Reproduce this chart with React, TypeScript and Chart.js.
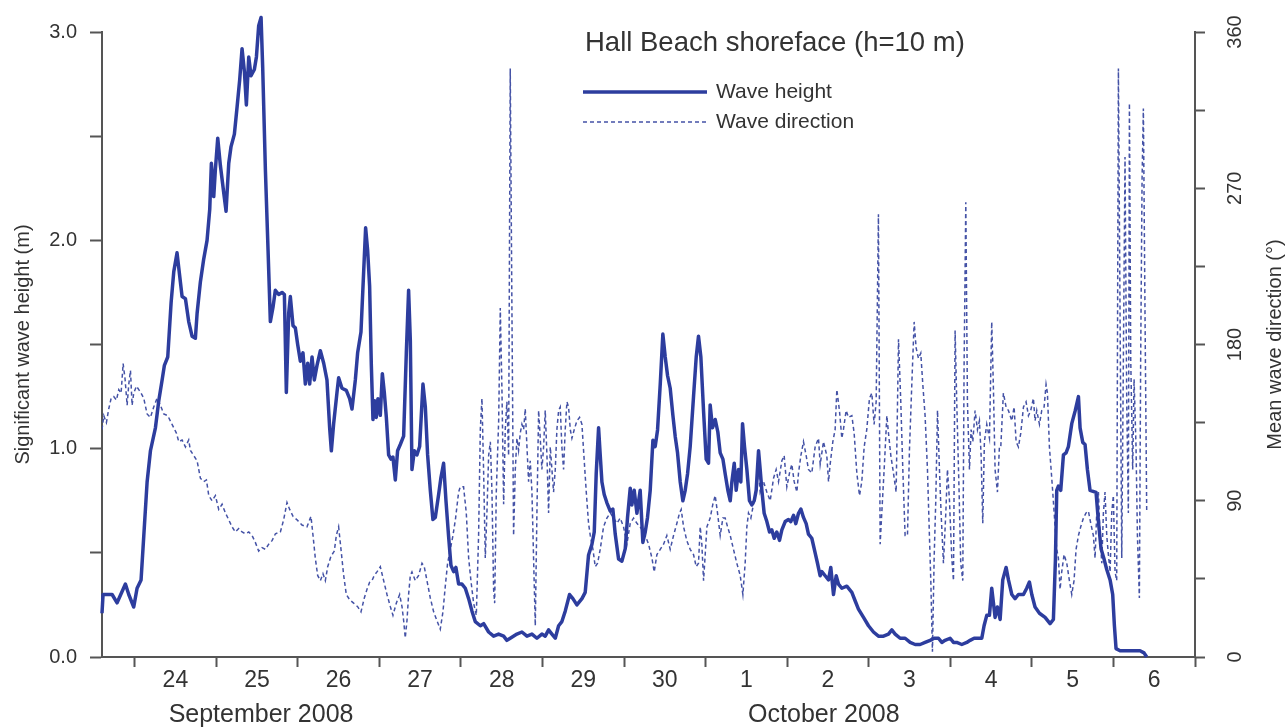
import React, { useEffect, useRef } from 'react';
import { Chart, registerables } from 'chart.js';

Chart.register(...registerables);

// ---- Data (x = days since 23 Sep 2008 00:00) ----
const heightDays = [
  0.6, 0.613, 0.724, 0.785, 0.887, 0.928, 0.989, 1.03, 1.079, 1.112,
  1.153, 1.194, 1.255, 1.296, 1.337, 1.365, 1.406, 1.447, 1.48, 1.52,
  1.561, 1.582, 1.623, 1.663, 1.704, 1.745, 1.766, 1.806, 1.847, 1.888,
  1.921, 1.941, 1.97, 1.99, 2.019, 2.051, 2.092, 2.121, 2.154, 2.182,
  2.223, 2.256, 2.288, 2.317, 2.346, 2.37, 2.399, 2.427, 2.468, 2.493,
  2.521, 2.55, 2.57, 2.603, 2.636, 2.664, 2.697,
  2.725, 2.766, 2.807, 2.836, 2.86, 2.889, 2.909, 2.942, 2.97, 2.999,
  3.032, 3.064, 3.093, 3.122, 3.146, 3.175, 3.203, 3.236, 3.277, 3.318,
  3.358, 3.391, 3.412, 3.44, 3.481, 3.501, 3.542, 3.595, 3.636, 3.665,
  3.706, 3.734, 3.775, 3.8, 3.832, 3.857, 3.881, 3.902, 3.922, 3.943,
  3.963, 3.983, 4.012, 4.037, 4.061, 4.086, 4.114, 4.143, 4.167, 4.196,
  4.224, 4.257, 4.298, 4.331, 4.359, 4.38, 4.4, 4.429, 4.461, 4.494,
  4.535, 4.564, 4.592, 4.625, 4.657, 4.686, 4.727, 4.755, 4.788, 4.817,
  4.849, 4.878, 4.911, 4.939, 4.972,
  5.013, 5.054, 5.095, 5.136, 5.176, 5.238, 5.279, 5.34, 5.401, 5.462,
  5.524, 5.564, 5.605, 5.687, 5.748, 5.81, 5.871, 5.932, 5.993, 6.034,
  6.075, 6.116, 6.157, 6.198, 6.238, 6.279, 6.332, 6.373, 6.422, 6.484,
  6.524, 6.565, 6.606, 6.635, 6.659, 6.688, 6.708, 6.729, 6.757, 6.79,
  6.831, 6.863, 6.892, 6.933, 6.974, 7.015, 7.043, 7.076, 7.096, 7.125,
  7.158, 7.198,
  7.231, 7.26, 7.288, 7.321, 7.354, 7.382, 7.411, 7.444, 7.476, 7.505,
  7.534, 7.566, 7.599, 7.627, 7.656, 7.689, 7.721, 7.75, 7.779, 7.811,
  7.852, 7.885, 7.913, 7.942, 7.975, 8.007, 8.036, 8.056, 8.085, 8.118,
  8.15, 8.179, 8.212, 8.24, 8.273, 8.302, 8.322, 8.351, 8.375, 8.404,
  8.432, 8.453, 8.477, 8.506, 8.538, 8.567, 8.596, 8.62, 8.649, 8.669,
  8.69, 8.718, 8.751, 8.784, 8.812, 8.841, 8.873, 8.906, 8.935, 8.976,
  9.016, 9.045, 9.078, 9.106, 9.139, 9.168, 9.2, 9.233, 9.261, 9.302,
  9.343, 9.372, 9.404,
  9.425, 9.466, 9.507, 9.535, 9.568, 9.601, 9.629, 9.67, 9.731, 9.793,
  9.833, 9.874, 9.936, 9.997, 10.058, 10.119, 10.181, 10.242, 10.283, 10.324,
  10.385, 10.446, 10.508, 10.569, 10.63, 10.691, 10.753, 10.802, 10.855, 10.896,
  10.936, 10.998, 11.039, 11.079, 11.141, 11.202, 11.243, 11.292, 11.345, 11.386,
  11.414, 11.447, 11.48, 11.508, 11.529, 11.549, 11.578, 11.611,
  11.643, 11.684, 11.713, 11.754, 11.794, 11.835, 11.897, 11.937, 11.97, 11.999,
  12.039, 12.093, 12.162, 12.223, 12.264, 12.289, 12.305, 12.325, 12.354, 12.387,
  12.419, 12.448, 12.489, 12.53, 12.571, 12.591, 12.624, 12.652, 12.681, 12.713,
  12.787, 12.816, 12.848, 12.885, 12.918, 12.959, 12.991, 13.012, 13.032, 13.081,
  13.204, 13.326, 13.375, 13.408,
];

const heightValues = [
  0.21, 0.3, 0.3, 0.26, 0.35, 0.3, 0.24, 0.33, 0.37, 0.58,
  0.84, 0.99, 1.1, 1.23, 1.33, 1.4, 1.44, 1.7, 1.85, 1.94,
  1.8, 1.73, 1.72, 1.61, 1.54, 1.53, 1.65, 1.8, 1.91, 2.0,
  2.15, 2.37, 2.21, 2.34, 2.49, 2.36, 2.23, 2.14, 2.37, 2.45,
  2.51, 2.64, 2.77, 2.92, 2.81, 2.65, 2.88, 2.79, 2.82, 2.88,
  3.03, 3.07, 2.83, 2.34, 1.95, 1.61, 1.68,
  1.76, 1.74, 1.75, 1.74, 1.27, 1.65, 1.73, 1.59, 1.58, 1.5,
  1.42, 1.46, 1.31, 1.41, 1.31, 1.44, 1.33, 1.4, 1.47, 1.41,
  1.33, 1.1, 0.99, 1.12, 1.27, 1.34, 1.29, 1.28, 1.24, 1.19,
  1.33, 1.46, 1.56, 1.78, 2.06, 1.95, 1.78, 1.4, 1.14, 1.23,
  1.15, 1.24, 1.16, 1.36, 1.27, 1.15, 0.97, 0.95, 0.96, 0.85,
  0.99, 1.02, 1.06, 1.46, 1.76, 1.52, 0.9, 0.99, 0.97, 1.01,
  1.31, 1.2, 0.97, 0.8, 0.66, 0.67, 0.78, 0.86, 0.93, 0.75,
  0.58, 0.44, 0.41, 0.43, 0.35,
  0.35, 0.33, 0.28, 0.22, 0.17, 0.15, 0.16, 0.12, 0.1, 0.11,
  0.1, 0.08, 0.09, 0.11, 0.12, 0.1, 0.11, 0.09, 0.11, 0.1,
  0.13, 0.11, 0.09, 0.15, 0.17, 0.22, 0.3, 0.28, 0.25, 0.28,
  0.31, 0.49, 0.54, 0.6, 0.88, 1.1, 0.97, 0.84, 0.78, 0.74,
  0.7, 0.71, 0.59, 0.47, 0.46, 0.52, 0.67, 0.81, 0.73, 0.8,
  0.69, 0.8,
  0.55, 0.6, 0.67, 0.8, 1.04, 1.01, 1.09, 1.31, 1.55, 1.44,
  1.35, 1.29, 1.16, 1.06, 0.98, 0.84, 0.75, 0.8, 0.88, 1.01,
  1.25, 1.44, 1.54, 1.44, 1.18, 0.95, 0.93, 1.21, 1.1, 1.14,
  1.08, 0.98, 0.95, 0.88, 0.8, 0.75, 0.84, 0.93, 0.8, 0.9,
  0.84, 1.12, 1.01, 0.9, 0.75, 0.73, 0.75, 0.8, 0.99, 0.9,
  0.8, 0.69, 0.65, 0.6, 0.61, 0.57, 0.6, 0.56, 0.61, 0.65,
  0.66, 0.65, 0.68, 0.64, 0.69, 0.71, 0.67, 0.64, 0.59, 0.57,
  0.5, 0.45, 0.39,
  0.41, 0.39, 0.37, 0.43, 0.3, 0.39, 0.35, 0.33, 0.34, 0.31,
  0.27, 0.23, 0.19, 0.15, 0.12, 0.1, 0.1, 0.11, 0.13, 0.11,
  0.09, 0.09, 0.07, 0.06, 0.06, 0.07, 0.08, 0.09, 0.09, 0.07,
  0.08, 0.09, 0.07, 0.07, 0.06, 0.07, 0.08, 0.09, 0.09, 0.09,
  0.15, 0.2, 0.2, 0.33, 0.26, 0.19, 0.24, 0.18,
  0.37, 0.43, 0.37, 0.3, 0.28, 0.3, 0.3, 0.33, 0.36, 0.3,
  0.24, 0.21, 0.19, 0.16, 0.18, 0.47, 0.8, 0.82, 0.8, 0.97,
  0.98, 1.01, 1.12, 1.18, 1.25, 1.1, 1.03, 1.02, 0.9, 0.8,
  0.79, 0.65, 0.52, 0.47, 0.42, 0.37, 0.3, 0.15, 0.04, 0.03,
  0.03, 0.03, 0.02, 0.0,
];

const directionDays = [
  0.6, 0.622, 0.654, 0.683, 0.712, 0.744, 0.777, 0.806, 0.834, 0.859,
  0.883, 0.908, 0.928, 0.949, 0.969, 0.989, 1.022, 1.051, 1.079, 1.112,
  1.153, 1.194, 1.234, 1.275, 1.316, 1.357, 1.406, 1.459, 1.512, 1.541,
  1.582, 1.623, 1.663, 1.684, 1.725, 1.766, 1.806, 1.847, 1.88, 1.909,
  1.949, 1.99, 2.031, 2.072, 2.113, 2.154, 2.194, 2.235, 2.276, 2.317,
  2.358, 2.399, 2.44, 2.48, 2.521, 2.562, 2.603, 2.644, 2.685, 2.726,
  2.787, 2.827, 2.868, 2.901, 2.942, 2.991, 3.052, 3.113, 3.162, 3.187,
  3.215, 3.244, 3.277, 3.309, 3.338, 3.367, 3.407, 3.448, 3.473, 3.501,
  3.53, 3.563, 3.595, 3.636, 3.685, 3.734, 3.775, 3.816, 3.849, 3.881,
  3.91, 3.938, 3.971, 4.012, 4.053, 4.094, 4.135, 4.167, 4.208, 4.249,
  4.278, 4.298, 4.318, 4.339, 4.359, 4.38, 4.4, 4.441, 4.482, 4.523,
  4.551, 4.584, 4.625, 4.666, 4.706, 4.747, 4.78, 4.809, 4.837, 4.87,
  4.903, 4.935, 4.972,
  4.993, 5.033, 5.066, 5.095, 5.123, 5.156, 5.189, 5.217, 5.238, 5.258,
  5.279, 5.299, 5.319, 5.34, 5.361, 5.381, 5.401, 5.414, 5.434, 5.463,
  5.483, 5.504, 5.524, 5.544, 5.564, 5.585, 5.605, 5.626, 5.646, 5.667,
  5.687, 5.707, 5.728, 5.748, 5.769, 5.789, 5.81, 5.83, 5.85, 5.871,
  5.891, 5.912, 5.932, 5.953, 5.973, 5.993, 6.014, 6.034, 6.055, 6.075,
  6.096, 6.116, 6.136, 6.157, 6.177, 6.198, 6.218, 6.238, 6.259, 6.279,
  6.3, 6.32, 6.341, 6.361, 6.39, 6.422, 6.455, 6.484, 6.504, 6.537,
  6.565, 6.586, 6.619, 6.647, 6.676, 6.708, 6.749, 6.79, 6.831, 6.872,
  6.913, 6.953, 6.994, 7.035, 7.076, 7.117, 7.158, 7.198,
  7.26, 7.301, 7.342, 7.37, 7.403, 7.444, 7.485, 7.525, 7.566, 7.607,
  7.648, 7.681, 7.701, 7.73, 7.77, 7.811, 7.852, 7.885, 7.913, 7.934,
  7.954, 7.975, 7.995, 8.016, 8.056, 8.089, 8.118, 8.146, 8.179, 8.212,
  8.24, 8.269, 8.302, 8.342, 8.383, 8.424, 8.457, 8.485, 8.506, 8.526,
  8.555, 8.587, 8.62, 8.649, 8.669, 8.71, 8.751, 8.792, 8.833, 8.865,
  8.894, 8.935, 8.963, 8.996, 9.029, 9.057, 9.086, 9.119, 9.139, 9.168,
  9.2, 9.233, 9.261, 9.302, 9.343, 9.384,
  9.405, 9.445, 9.486, 9.507, 9.527, 9.56, 9.588, 9.609, 9.641, 9.67,
  9.69, 9.723, 9.752, 9.793, 9.821, 9.854, 9.887, 9.915, 9.944, 9.976,
  10.009, 10.038, 10.066, 10.091, 10.119, 10.14, 10.16, 10.189, 10.222, 10.242,
  10.271, 10.303, 10.336, 10.365, 10.393, 10.418, 10.446, 10.475, 10.499, 10.528,
  10.557, 10.581, 10.61, 10.638, 10.663, 10.691, 10.72, 10.744, 10.761, 10.781,
  10.802, 10.822, 10.843, 10.867, 10.887, 10.916, 10.945, 10.965, 10.99, 11.018,
  11.039, 11.059, 11.079, 11.108, 11.128, 11.153, 11.169, 11.19, 11.21, 11.235,
  11.255, 11.276, 11.304, 11.333, 11.357, 11.378, 11.398, 11.418, 11.447, 11.48,
  11.508, 11.529, 11.549, 11.578, 11.602,
  11.619, 11.651, 11.684, 11.713, 11.754, 11.782, 11.807, 11.835, 11.864, 11.897,
  11.929, 11.958, 11.986, 12.019, 12.039, 12.06, 12.093, 12.121, 12.15, 12.174,
  12.191, 12.215, 12.236, 12.256, 12.285, 12.305, 12.325, 12.346, 12.366, 12.395,
  12.428, 12.46, 12.489, 12.517, 12.542, 12.571, 12.599, 12.632, 12.664, 12.693,
  12.722, 12.754, 12.775, 12.795, 12.816, 12.836, 12.857, 12.877, 12.897, 12.918,
  12.938, 12.959, 12.979, 12.999, 13.02, 13.04, 13.061, 13.081, 13.102, 13.122,
  13.142, 13.163, 13.183, 13.196, 13.212, 13.236, 13.253, 13.277, 13.294, 13.318,
  13.334, 13.351, 13.367, 13.387, 13.408,
];

const directionValues = [
  131, 139, 135, 143, 149, 150, 148, 154, 152, 169,
  160, 145, 157, 165, 145, 152, 156, 154, 152, 149,
  140, 138, 144, 149, 145, 140, 139, 134, 129, 124,
  125, 121, 125, 119, 116, 113, 103, 101, 102, 93,
  90, 93, 85, 88, 83, 79, 75, 72, 74, 72,
  71, 72, 70, 66, 61, 63, 62, 65, 67, 71,
  72, 79, 89, 85, 81, 79, 76, 75, 81, 70,
  57, 47, 44, 48, 44, 52, 58, 61, 70, 75,
  62, 47, 36, 33, 31, 29, 26, 34, 39, 43,
  44, 47, 49, 52, 44, 36, 29, 24, 31, 36,
  29, 21, 11, 21, 36, 47, 49, 44, 47, 54,
  52, 44, 34, 26, 21, 16, 26, 41, 54, 62,
  70, 80, 95,
  98, 98, 83, 57, 44, 31, 24, 70, 131, 149,
  106, 57, 83, 116, 124, 95, 39, 31, 95, 136,
  201, 152, 88, 131, 147, 116, 339, 198, 70, 108,
  126, 119, 129, 134, 131, 143, 121, 101, 113, 95,
  57, 18, 83, 142, 126, 108, 121, 142, 116, 83,
  121, 108, 95, 108, 131, 142, 144, 121, 108, 131,
  147, 144, 131, 126, 131, 136, 138, 134, 119, 95,
  77, 70, 62, 52, 54, 62, 75, 80, 83, 80,
  77, 80, 75, 65, 77, 80, 77, 75,
  70, 65, 57, 49, 59, 62, 65, 70, 62, 70,
  77, 83, 85, 75, 67, 62, 59, 52, 54, 75,
  65, 44, 59, 75, 80, 88, 93, 83, 70, 80,
  80, 75, 70, 62, 54, 47, 36, 54, 75, 83,
  80, 88, 95, 106, 95, 101, 95, 90, 103, 108,
  101, 113, 116, 98, 106, 111, 101, 95, 106, 116,
  124, 116, 108, 106, 121, 126,
  111, 124, 116, 101, 111, 124, 131, 154, 142, 126,
  131, 142, 138, 139, 129, 106, 93, 101, 121, 131,
  149, 152, 134, 147, 255, 65, 83, 108, 139, 129,
  116, 106, 95, 183, 147, 108, 70, 70, 119, 157,
  193, 178, 172, 175, 157, 139, 108, 70, 44, 3,
  57, 90, 142, 108, 83, 54, 83, 108, 90, 57,
  44, 188, 147, 95, 54, 44, 167, 262, 147, 108,
  131, 124, 142, 131, 136, 116, 77, 124, 134, 126,
  193, 154, 108, 95, 121,
  121, 152, 144, 142, 136, 144, 124, 121, 129, 144,
  147, 139, 142, 149, 136, 142, 134, 142, 144, 157,
  152, 121, 108, 95, 75, 62, 57, 39, 49, 59,
  54, 44, 36, 44, 62, 70, 75, 80, 83, 84,
  77, 70, 57, 83, 95, 70, 54, 83, 95, 70,
  59, 49, 83, 93, 49, 44, 339, 198, 57, 172,
  288, 147, 83, 319, 172, 108, 160, 121, 70, 34,
  172, 275, 316, 198, 83,
];

// Axis ticks / labels
const dayBoundaries = [1, 2, 3, 4, 5, 6, 7, 8, 9, 10, 11, 12, 13, 14];
const dayLabels = ['24', '25', '26', '27', '28', '29', '30', '1', '2', '3', '4', '5', '6'];
const monthLabels = ['September 2008', 'October 2008'];
const monthLabelDays = [2.55, 9.45];
const heightTicks = [0, 0.5, 1, 1.5, 2, 2.5, 3];
const directionTicks = [0, 45, 90, 135, 180, 225, 270, 315, 360];

const chartTitle = 'Hall Beach shoreface (h=10 m)';
const seriesNames = ['Wave height', 'Wave direction'];
const leftAxisTitle = 'Significant wave height (m)';
const rightAxisTitle = 'Mean wave direction (°)';

// Styles
const FONT = "'Liberation Sans', Arial, Helvetica, sans-serif";
const TEXT = '#333333';
const AXIS = '#555555';
const SOLID_BLUE = '#2d3d9e';
const DASH_BLUE = '#4452a6';

const figureTextPlugin = {
  id: 'figureText',
  afterDraw(chart: any) {
    const { ctx, chartArea, scales } = chart;
    ctx.save();
    ctx.fillStyle = TEXT;
    ctx.textBaseline = 'middle';

    // Title
    ctx.font = `27.5px ${FONT}`;
    ctx.textAlign = 'left';
    const lx = chartArea.left + 481;
    ctx.fillText(chartTitle, lx + 2, chartArea.top + 11);

    // Legend
    const rows = [chartArea.top + 60, chartArea.top + 90];
    ctx.font = `21px ${FONT}`;
    rows.forEach((y, i) => {
      ctx.beginPath();
      ctx.strokeStyle = i === 0 ? SOLID_BLUE : DASH_BLUE;
      ctx.lineWidth = i === 0 ? 3.5 : 1.5;
      ctx.setLineDash(i === 0 ? [] : [4, 3]);
      ctx.moveTo(lx, y);
      ctx.lineTo(lx + 124, y);
      ctx.stroke();
      ctx.setLineDash([]);
      ctx.fillText(seriesNames[i], lx + 133, y);
    });

    // Month labels under the day ticks
    ctx.font = `25px ${FONT}`;
    ctx.textAlign = 'center';
    monthLabels.forEach((m, i) => {
      ctx.fillText(m, scales.x.getPixelForValue(monthLabelDays[i]), chartArea.bottom + 58);
    });

    // Right axis title (reads bottom to top)
    ctx.translate(chartArea.right + 80, (chartArea.top + chartArea.bottom) / 2);
    ctx.rotate(-Math.PI / 2);
    ctx.font = `20px ${FONT}`;
    ctx.textAlign = 'center';
    ctx.fillText(rightAxisTitle, 0, 0);
    ctx.restore();
  },
};

export default function App() {
  const canvasRef = useRef<HTMLCanvasElement | null>(null);

  useEffect(() => {
    if (!canvasRef.current) return;
    const heightPoints = heightDays.map((d, i) => ({ x: d, y: heightValues[i] }));
    const directionPoints = directionDays.map((d, i) => ({ x: d, y: directionValues[i] }));
    const labelCenters = dayLabels.map((_, i) => dayBoundaries[i] + 0.5);
    const xTickValues = [...dayBoundaries, ...labelCenters].sort((a, b) => a - b);

    const chart = new Chart(canvasRef.current, {
      type: 'line',
      data: {
        datasets: [
          {
            label: seriesNames[0],
            data: heightPoints,
            yAxisID: 'y',
            borderColor: SOLID_BLUE,
            borderWidth: 3.5,
            pointRadius: 0,
            tension: 0,
            borderJoinStyle: 'round',
            clip: { left: 2, right: 2, top: 30, bottom: 2 },
          },
          {
            label: seriesNames[1],
            data: directionPoints,
            yAxisID: 'y1',
            borderColor: DASH_BLUE,
            borderWidth: 1.5,
            borderDash: [4, 3],
            pointRadius: 0,
            tension: 0,
          },
        ],
      },
      options: {
        animation: false,
        responsive: true,
        maintainAspectRatio: false,
        events: [],
        layout: { padding: { left: 0, right: 0, top: 32, bottom: 0 } },
        plugins: {
          legend: { display: false },
          title: { display: false },
          tooltip: { enabled: false },
        },
        scales: {
          x: {
            type: 'linear',
            position: 'bottom',
            min: 0.6,
            max: 14,
            afterBuildTicks: (scale: any) => {
              scale.ticks = xTickValues.map((v) => ({ value: v }));
            },
            afterFit: (scale: any) => {
              scale.height = 70;
            },
            ticks: {
              autoSkip: false,
              maxRotation: 0,
              minRotation: 0,
              padding: 0,
              color: TEXT,
              font: { family: FONT, size: 23 },
              callback: (value: any) => {
                const v = Number(value);
                if (Number.isInteger(v)) return '';
                return dayLabels[Math.floor(v) - 1] ?? '';
              },
            },
            grid: {
              drawOnChartArea: false,
              drawTicks: true,
              tickLength: 10,
              tickWidth: 2,
              tickColor: (ctx: any) =>
                ctx.tick && Number.isInteger(ctx.tick.value) ? AXIS : 'rgba(0,0,0,0)',
            },
            border: { display: true, color: AXIS, width: 2 },
          },
          y: {
            type: 'linear',
            position: 'left',
            min: 0,
            max: 3,
            afterBuildTicks: (scale: any) => {
              scale.ticks = heightTicks.map((v) => ({ value: v }));
            },
            afterFit: (scale: any) => {
              scale.width = 102;
            },
            ticks: {
              padding: 13,
              color: TEXT,
              font: { family: FONT, size: 20 },
              callback: (value: any) => {
                const v = Number(value);
                return Number.isInteger(v) ? v.toFixed(1) : '';
              },
            },
            grid: {
              drawOnChartArea: false,
              drawTicks: true,
              tickLength: 12,
              tickWidth: 2,
              tickColor: AXIS,
            },
            border: { display: true, color: AXIS, width: 2 },
            title: {
              display: true,
              text: leftAxisTitle,
              color: TEXT,
              font: { family: FONT, size: 20 },
              padding: { top: 11, bottom: 0 },
            },
          },
          y1: {
            type: 'linear',
            position: 'right',
            min: 0,
            max: 360,
            afterBuildTicks: (scale: any) => {
              scale.ticks = directionTicks.map((v) => ({ value: v }));
            },
            afterFit: (scale: any) => {
              scale.width = 93;
            },
            ticks: {
              minRotation: 90,
              maxRotation: 90,
              crossAlign: 'center',
              padding: 14,
              color: TEXT,
              font: { family: FONT, size: 20 },
              callback: (value: any) => {
                const v = Number(value);
                return v % 90 === 0 ? String(v) : '';
              },
            },
            grid: {
              drawOnChartArea: false,
              drawTicks: true,
              tickLength: 10,
              tickWidth: 2,
              tickColor: AXIS,
            },
            border: { display: true, color: AXIS, width: 2 },
          },
        },
      },
      plugins: [figureTextPlugin],
    } as any);

    return () => chart.destroy();
  }, []);

  return (
    <div style={{ position: 'absolute', left: 0, top: 0, width: 1288, height: 727, background: '#ffffff' }}>
      <canvas ref={canvasRef} />
    </div>
  );
}
